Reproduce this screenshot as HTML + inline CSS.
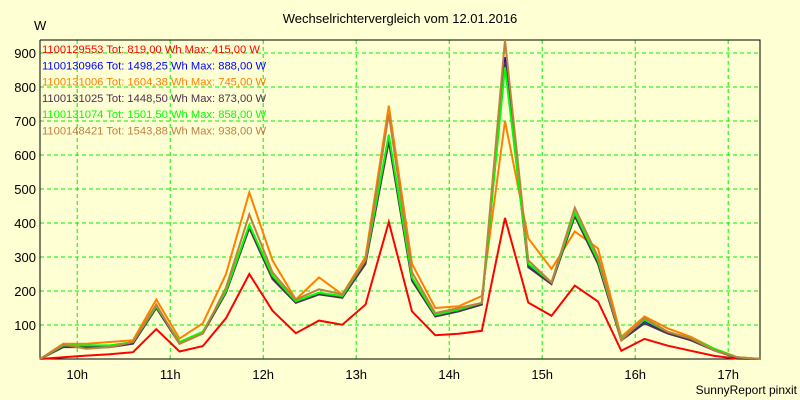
<!DOCTYPE html>
<html><head><meta charset="utf-8"><style>
body{margin:0;background:#ffffd4;}
svg{display:block;font-family:"Liberation Sans",sans-serif;}
</style></head><body>
<svg id="c" width="800" height="400">
<rect width="800" height="400" fill="#ffffd4"/>
<text x="400" y="23" font-size="13" text-anchor="middle">Wechselrichtervergleich vom 12.01.2016</text>
<text x="34" y="30" font-size="13">W</text>
<text x="797" y="394" font-size="12" text-anchor="end">SunnyReport pinxit</text>
<g id="grid"></g><g id="lines"></g><g id="legend"></g>
</svg>
<script>
const yTicks=[100,200,300,400,500,600,700,800,900];
const xTicks=[10,11,12,13,14,15,16,17];
const startHour=9.6, stepHour=0.25;
const seriesNames=["1100129553","1100130966","1100131006","1100131025","1100131074","1100148421"];
const seriesLegend=["Tot: 819,00 Wh Max: 415,00 W","Tot: 1498,25 Wh Max: 888,00 W","Tot: 1604,38 Wh Max: 745,00 W","Tot: 1448,50 Wh Max: 873,00 W","Tot: 1501,50 Wh Max: 858,00 W","Tot: 1543,88 Wh Max: 938,00 W"];
const seriesColors=["#ff0000","#0000ff","#ff8000","#503050","#00ff00","#c08040"];
const s0=[0,5,10,14,20,88,22,38,120,250,142,76,113,101,160,403,140,70,74,83,415,166,127,216,169,24,59,39,24,9,1,0];
const s1=[0,38,38,38,48,152,48,78,198,392,242,168,193,183,286,655,236,128,143,163,888,278,223,428,286,58,112,78,58,28,4,0];
const s2=[0,45,45,50,55,175,60,105,250,490,290,175,240,190,300,745,280,150,155,185,700,355,265,375,325,65,125,90,65,30,5,0];
const s3=[0,35,35,35,45,150,45,75,195,385,235,165,190,180,280,640,230,125,140,160,873,270,220,420,280,55,105,75,55,25,3,0];
const s4=[0,40,40,40,50,155,50,80,200,395,245,170,195,185,290,660,240,130,145,165,858,280,225,430,290,60,115,80,60,30,5,0];
const s5=[0,42,30,35,50,160,45,75,210,425,255,175,205,190,290,720,255,135,150,165,938,290,225,445,300,55,120,80,60,25,5,0];
const seriesData=[s0,s1,s2,s3,s4,s5];
const L=40,R=760,T=40,B=359;
const xs=h=>L+(h-startHour)*93;
const ys=v=>B-v*0.34;
const NS="http://www.w3.org/2000/svg";
function mk(tag,attrs,parent,text){const e=document.createElementNS(NS,tag);for(const k in attrs)e.setAttribute(k,attrs[k]);if(text!==undefined)e.textContent=text;parent.appendChild(e);return e;}
const g=document.getElementById('grid');
yTicks.forEach(v=>{
 const l=mk('line',{x1:L,x2:R,y1:ys(v),y2:ys(v),stroke:'#00ee00','stroke-dasharray':'4,3'},g);
 
 
 const t=mk('text',{x:36,y:ys(v)+5,'font-size':13,'text-anchor':'end'},g,String(v));
 
 
});
xTicks.forEach(h=>{
 const l=mk('line',{x1:xs(h),x2:xs(h),y1:T,y2:B,stroke:'#00ee00','stroke-dasharray':'4,3'},g);
 
 
 const t=mk('text',{x:xs(h),y:379,'font-size':13,'text-anchor':'middle'},g,h+'h');
 
 
});
const ax=mk('path',{d:`M${L},${T}V${B}H${R}V${T}H${L}`,fill:'none',stroke:'#000'},g);


const lg=document.getElementById('lines');
seriesData.forEach((d,i)=>{
 const pts=d.map((v,k)=>`${xs(startHour+k*stepHour).toFixed(1)},${ys(v).toFixed(1)}`).join(' ');
 const p=mk('polyline',{points:pts,fill:'none',stroke:seriesColors[i],'stroke-width':2,'stroke-linejoin':'miter'},lg);
 
 
});
const leg=document.getElementById('legend');
seriesNames.forEach((n,i)=>{
 const t=mk('text',{x:42,y:53+i*16.3,'font-size':11.2,fill:seriesColors[i]},leg,n+' '+seriesLegend[i]);
 
 
});
</script>
</body></html>
